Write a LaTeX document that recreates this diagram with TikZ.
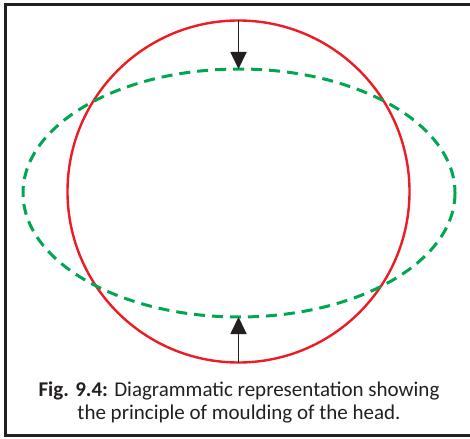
\documentclass[tikz,border=0pt]{standalone}
\usepackage{fontspec}
\setmainfont{Carlito}
\usetikzlibrary{arrows.meta}
\definecolor{headred}{RGB}{237,28,36}
\definecolor{mouldgreen}{RGB}{0,166,81}
\definecolor{framegray}{RGB}{35,31,32}
\tikzset{
  squeeze/.style={line width=1.8pt, framegray, -{Triangle[width=16pt,length=17pt]}},
}
\begin{document}
\begin{tikzpicture}[x=1pt,y=-1pt]
\useasboundingbox (0,0) rectangle (470,438);
% frame
\draw[framegray, line width=3pt] (470,4.5) -- (5.5,4.5) -- (5.5,435.5) -- (470,435.5);
% head before and after moulding
\draw[headred, line width=2.4pt] (238.5,191.5) circle[radius=171];
\draw[mouldgreen, line width=3pt, dash pattern=on 11pt off 7pt] (239,193) ellipse[x radius=216, y radius=124];
\coordinate (headtop) at (238.5,20.5);
\coordinate (mouldtop) at (238.5,69);
\coordinate (headbot) at (238.5,362.5);
\coordinate (mouldbot) at (238.5,317);
\draw[squeeze] (headtop) -- (mouldtop);
\draw[squeeze] (headbot) -- (mouldbot);
\node[align=center, text=framegray, font=\fontsize{21}{23}\selectfont] (caption) at (239,402)
  {\textbf{Fig. 9.4:} Diagrammatic representation showing\\the principle of moulding of the head.};
\end{tikzpicture}
\end{document}
